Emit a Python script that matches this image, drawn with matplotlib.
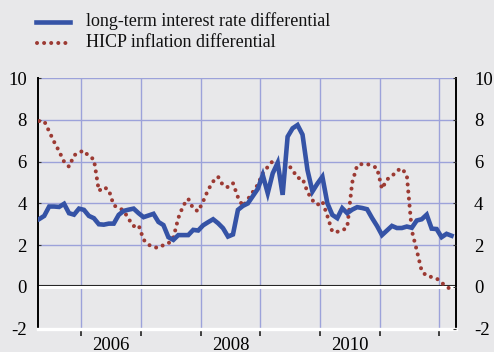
import numpy as np
import matplotlib
matplotlib.use('Agg')
from matplotlib import pyplot as plt
from matplotlib.lines import Line2D
from matplotlib.transforms import offset_copy

# monthly observations, April 2005 .. March 2012
start_month = -9          # months relative to January 2006
interest_diff = [
    3.25, 3.40, 3.85, 3.85, 3.83, 3.98, 3.53, 3.46, 3.75,             # 2005 Apr-Dec
    3.69, 3.40, 3.29, 3.00, 2.98, 3.03, 3.03, 3.45, 3.64, 3.70, 3.75, 3.53,  # 2006
    3.34, 3.42, 3.50, 3.11, 2.96, 2.38, 2.25, 2.48, 2.48, 2.48, 2.73, 2.70,  # 2007
    2.95, 3.10, 3.24, 3.05, 2.81, 2.41, 2.51, 3.69, 3.88, 4.00, 4.35, 4.70,  # 2008
    5.36, 4.49, 5.44, 5.95, 4.41, 7.20, 7.60, 7.76, 7.30, 5.60, 4.57, 4.95,  # 2009
    5.28, 4.01, 3.45, 3.29, 3.77, 3.53, 3.70, 3.82, 3.78, 3.72, 3.30, 2.92,  # 2010
    2.48, 2.70, 2.92, 2.82, 2.82, 2.89, 2.83, 3.18, 3.24, 3.46, 2.79, 2.77,  # 2011
    2.38, 2.54, 2.45,                                                 # 2012
]
hicp_diff = [
    7.95, 7.95, 7.45, 6.95, 6.50, 6.00, 5.76, 6.30, 6.45,
    6.53, 6.25, 6.12, 4.60, 4.78, 4.65, 3.90, 3.80, 3.65, 3.25, 2.91, 2.96,
    2.26, 2.02, 1.90, 1.87, 2.00, 2.08, 2.35, 3.30, 3.90, 4.22, 3.75, 3.62,
    4.10, 4.65, 5.05, 5.28, 4.86, 4.78, 4.97, 4.30, 3.86, 4.20, 4.55, 4.90,
    5.45, 5.75, 6.03, 5.92, 5.90, 5.89, 5.60, 5.22, 5.20, 4.55, 4.15, 3.93,
    4.10, 3.40, 2.64, 2.64, 2.70, 2.85, 5.00, 5.82, 5.89, 5.89, 5.80, 5.70,
    4.70, 5.15, 5.30, 5.57, 5.68, 5.35, 2.70, 1.75, 0.75, 0.52, 0.47, 0.40,
    0.20, 0.00, -0.13,
]
year_labels = ['2006', '2008', '2010']
label_years = [2006, 2008, 2010]
yticks = [-2, 0, 2, 4, 6, 8, 10]

bg = '#e8e8ea'
blue = '#3553a6'
red = '#9c3a33'
grid_col = '#9ca2da'
dots = (0, (0.01, 1.75))

plt.rcParams['font.family'] = ['Liberation Serif', 'DejaVu Serif']
plt.rcParams['font.size'] = 13

months = np.arange(len(interest_diff)) + start_month + 0.5

fig = plt.figure(figsize=(4.94, 3.52), dpi=100, facecolor=bg)
ax = fig.add_axes([38 / 494, 1 - 328.5 / 352, 418 / 494, (328.5 - 78.3) / 352])
ax.set_facecolor(bg)

ax.set_xlim(-8.75, 75.4)
ax.set_ylim(-2, 10)

bounds = np.arange(0, 73, 12)
for b in bounds:
    ax.axvline(b, color=grid_col, lw=1, zorder=1)
for v in [2, 4, 6, 8, 10]:
    ax.axhline(v, color=grid_col, lw=1, zorder=1)

# white zero line with a thin dark edge above it
shift_up = offset_copy(ax.get_yaxis_transform(), fig=fig, x=0, y=1.6, units='dots')
ax.plot([0, 1], [0, 0], color='#222222', lw=0.8, zorder=2, transform=shift_up)
ax.axhline(0, color='white', lw=2.2, zorder=2)

ax.plot(months, hicp_diff, color=red, lw=2.9, linestyle=dots,
        dash_capstyle='round', zorder=3)
ax.plot(months, interest_diff, color=blue, lw=3.3, solid_joinstyle='miter', zorder=4)

ax.spines['top'].set_visible(False)
for s in ['left', 'right']:
    ax.spines[s].set_color('black')
    ax.spines[s].set_linewidth(1.4)
ax.spines['bottom'].set_color('white')
ax.spines['bottom'].set_linewidth(2.4)
ax.spines['bottom'].set_zorder(5)

ax.set_yticks(yticks)
ax.set_yticklabels([str(v) for v in yticks])
ax.tick_params(axis='y', left=True, right=False, labelleft=True, labelright=False,
               direction='in', length=2.5, color='#333333', labelsize=13.5, pad=8)

# right-hand labels sit a little further out
ax_r = ax.twinx()
ax_r.set_ylim(ax.get_ylim())
ax_r.set_yticks(yticks)
ax_r.set_yticklabels([str(v) for v in yticks])
ax_r.tick_params(axis='y', direction='in', length=2.5, color='#333333',
                 labelsize=13.5, pad=13)
for s in ax_r.spines.values():
    s.set_visible(False)

ax.set_xticks(bounds)
ax.set_xticklabels([''] * len(bounds))
ax.set_xticks([(y - 2006) * 12 + 6 for y in label_years], minor=True)
ax.set_xticklabels(year_labels, minor=True)
ax.tick_params(axis='x', which='major', direction='out', length=5, width=1.2,
               color='#222222')
ax.tick_params(axis='x', which='minor', length=0, labelsize=13.5, pad=6)

# legend
fig.add_artist(Line2D([36 / 494, 70 / 494], [1 - 22 / 352] * 2, color=blue, lw=3.3))
fig.add_artist(Line2D([37 / 494, 71 / 494], [1 - 43 / 352] * 2, color=red, lw=2.9,
                      linestyle=dots, dash_capstyle='round'))
fig.text(86 / 494, 1 - 21.5 / 352, 'long-term interest rate differential',
         va='center', ha='left', fontsize=13, color='#111111')
fig.text(86 / 494, 1 - 42.5 / 352, 'HICP inflation differential',
         va='center', ha='left', fontsize=13, color='#111111')

fig.savefig('out.png', dpi=100, facecolor=bg)
